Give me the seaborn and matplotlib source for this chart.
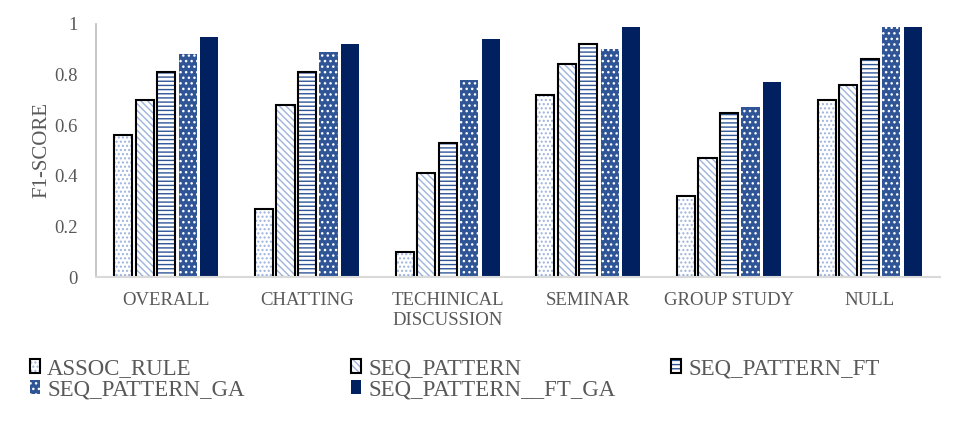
import pandas as pd
import seaborn as sns
import matplotlib.pyplot as plt
from matplotlib.colors import to_rgba

categories = ['OVERALL', 'CHATTING', 'TECHINICAL\nDISCUSSION',
              'SEMINAR', 'GROUP STUDY', 'NULL']
methods = ['ASSOC_RULE', 'SEQ_PATTERN', 'SEQ_PATTERN_FT',
           'SEQ_PATTERN_GA', 'SEQ_PATTERN__FT_GA']

assoc_rule = [0.56, 0.27, 0.10, 0.72, 0.32, 0.70]
seq_pattern = [0.70, 0.68, 0.41, 0.84, 0.47, 0.76]
seq_pattern_ft = [0.81, 0.81, 0.53, 0.92, 0.65, 0.86]
seq_pattern_ga = [0.88, 0.89, 0.78, 0.90, 0.67, 0.99]
seq_pattern_ft_ga = [0.95, 0.92, 0.94, 0.99, 0.77, 0.99]

yticks = [0, 0.2, 0.4, 0.6, 0.8, 1.0]
ytick_labels = ['0', '0.2', '0.4', '0.6', '0.8', '1']

text_color = '#595959'
blue = '#2F5597'
navy = '#002060'
light_blue = '#9EB3DD'

# face, hatch, hatch color, edge, edge width
bar_styles = [
    ('white', '....', light_blue, 'black', 1.5),
    ('white', '\\\\\\\\\\', light_blue, 'black', 1.5),
    ('white', '----', blue, 'black', 1.5),
    (blue, '...', 'white', 'none', 0),
    (navy, '', navy, 'none', 0),
]

sns.set_style('white')
plt.rcParams['font.family'] = ['Liberation Serif', 'DejaVu Serif']
plt.rcParams['hatch.linewidth'] = 1.0

df = pd.DataFrame({
    'Category': categories * 5,
    'Method': [m for m in methods for _ in categories],
    'F1': assoc_rule + seq_pattern + seq_pattern_ft + seq_pattern_ga + seq_pattern_ft_ga,
})

fig = plt.figure(figsize=(9.63, 4.29), dpi=100)
ax = fig.add_axes([96 / 963, 1 - 277 / 429, 844 / 963, 253 / 429])

sns.barplot(data=df, x='Category', y='F1', hue='Method', order=categories,
            hue_order=methods, palette=[s[0] for s in bar_styles],
            saturation=1, width=0.765, gap=0.16, legend=False, ax=ax)

for cont, (face, hatch, hcol, edge, lw) in zip(ax.containers, bar_styles):
    for p in cont.patches:
        p.set_facecolor(face)
        p.set_edgecolor(edge)
        p.set_linewidth(lw)
        p.set_hatch(hatch)
        p._hatch_color = to_rgba(hcol)

ax.set_ylim(0, 1)
ax.set_yticks(yticks)
ax.set_yticklabels(ytick_labels)
ax.set_xlabel('')
ax.set_ylabel('F1-SCORE', fontsize=15, color=text_color, labelpad=2)
ax.tick_params(axis='y', labelsize=13.5, colors=text_color, length=0, pad=13)
ax.tick_params(axis='x', labelsize=13.5, colors=text_color, length=0, pad=11)

sns.despine(ax=ax, top=True, right=True)
ax.spines['left'].set_color('#BFBFBF')
ax.spines['bottom'].set_color('#D9D9D9')
ax.spines['left'].set_linewidth(1.2)
ax.spines['bottom'].set_linewidth(1.5)

handles = [cont.patches[0] for cont in ax.containers]
columns = [[0, 3], [1, 4], [2]]
col_x = [30, 351, 671]
for idx, x in zip(columns, col_x):
    leg = fig.legend([handles[i] for i in idx], [methods[i] for i in idx],
                     loc='upper left', bbox_to_anchor=(x / 963, 1 - 358 / 429),
                     frameon=False, borderpad=0, borderaxespad=0,
                     handlelength=0.45, handleheight=0.55, handletextpad=0.3,
                     labelspacing=0.02, fontsize=16.5)
    for t in leg.get_texts():
        t.set_color(text_color)

fig.savefig('out.png', dpi=100)
